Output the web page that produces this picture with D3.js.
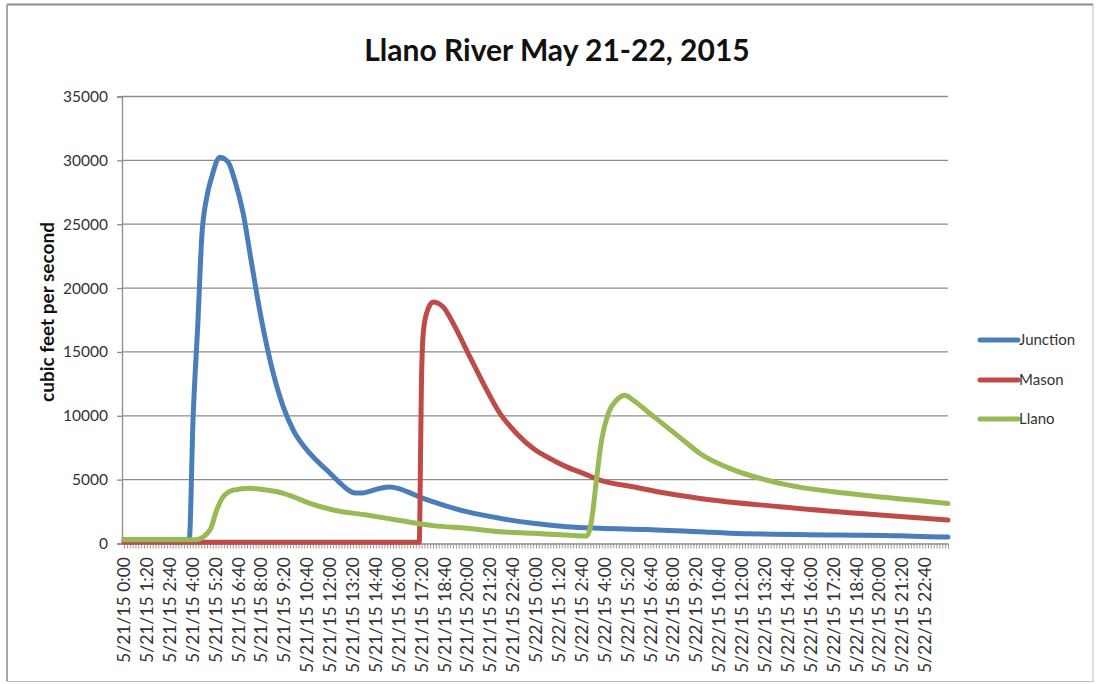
<!DOCTYPE html>
<html>
<head>
<meta charset="utf-8">
<script src="https://cdn.jsdelivr.net/npm/d3@7"></script>
<style>
  html, body { margin: 0; padding: 0; background: #fff; }
  svg { display: block; font-family: Lato, "Open Sans", sans-serif; }
</style>
</head>
<body>
<svg id="chart" width="1097" height="684"></svg>
<script>
// ---- Data (hours since 5/21/15 0:00, cubic feet per second) ----
const seriesNames = ["Junction", "Mason", "Llano"];
const seriesColors = ["#4a7ebb", "#be4b48", "#98b954"];

const junctionHours = [0, 3.8, 4.02, 4.31, 4.53, 4.82, 5.11, 5.59, 6.07, 6.46, 6.95, 7.34, 7.73, 8.21, 8.70, 9.28, 9.86, 10.83, 11.81, 12.5, 13.0, 13.45, 13.9, 14.4, 15.0, 15.49, 16.0, 16.46, 17.43, 18.60, 19.96, 21.90, 23.84, 25.78, 27.72, 30.44, 33.55, 35.29, 41.70, 45.2, 46.94, 48];
const junctionValues = [300, 300, 9650, 17470, 24000, 27100, 28700, 30250, 29850, 28400, 25800, 22700, 19570, 16170, 13300, 10700, 8880, 7050, 5750, 4850, 4250, 3950, 3950, 4120, 4350, 4420, 4300, 4080, 3530, 3010, 2490, 1970, 1580, 1310, 1190, 1100, 920, 800, 660, 600, 530, 500];

const masonHours = [0, 17.2, 17.28, 17.33, 17.43, 17.62, 18.01, 18.59, 19.18, 19.96, 20.93, 21.90, 22.87, 23.84, 24.81, 25.78, 26.75, 27.72, 29.66, 31.61, 33.55, 38.21, 44.03, 48];
const masonValues = [100, 100, 7570, 12790, 16440, 18000, 18900, 18520, 17220, 15130, 12530, 10180, 8620, 7440, 6660, 6000, 5490, 4970, 4440, 3930, 3530, 2880, 2230, 1840];

const llanoHours = [0, 4.2, 5.01, 5.40, 5.78, 6.37, 7.34, 8.31, 9.28, 9.86, 10.83, 12.19, 14.14, 16.07, 18.01, 19.96, 21.90, 23.84, 25.78, 26.95, 27.24, 27.52, 27.82, 28.21, 28.69, 29.18, 29.66, 30.63, 31.61, 32.58, 33.55, 35.29, 38.21, 42.09, 45.97, 48];
const llanoValues = [300, 300, 1050, 2620, 3660, 4180, 4320, 4180, 3930, 3660, 3140, 2620, 2230, 1800, 1400, 1190, 920, 800, 660, 590, 1840, 4970, 8090, 10180, 11220, 11610, 11220, 10180, 9130, 8090, 7050, 5880, 4710, 3930, 3400, 3140];

const yTicks = [0, 5000, 10000, 15000, 20000, 25000, 30000, 35000];
const xTickLabels = [
  "5/21/15 0:00", "5/21/15 1:20", "5/21/15 2:40", "5/21/15 4:00", "5/21/15 5:20", "5/21/15 6:40",
  "5/21/15 8:00", "5/21/15 9:20", "5/21/15 10:40", "5/21/15 12:00", "5/21/15 13:20", "5/21/15 14:40",
  "5/21/15 16:00", "5/21/15 17:20", "5/21/15 18:40", "5/21/15 20:00", "5/21/15 21:20", "5/21/15 22:40",
  "5/22/15 0:00", "5/22/15 1:20", "5/22/15 2:40", "5/22/15 4:00", "5/22/15 5:20", "5/22/15 6:40",
  "5/22/15 8:00", "5/22/15 9:20", "5/22/15 10:40", "5/22/15 12:00", "5/22/15 13:20", "5/22/15 14:40",
  "5/22/15 16:00", "5/22/15 17:20", "5/22/15 18:40", "5/22/15 20:00", "5/22/15 21:20", "5/22/15 22:40"
];
const titleText = "Llano River May 21-22, 2015";
const yTitleText = "cubic feet per second";

// ---- Layout ----
const svg = d3.select("#chart");
const plot = { left: 122, right: 948, top: 96.5, bottom: 543.5 };

// Frame
svg.append("rect").attr("x", 7).attr("y", 4.5).attr("width", 1086).attr("height", 677)
  .attr("fill", "#fff").attr("stroke", "#bdbdbd").attr("stroke-width", 1);
svg.append("line").attr("x1", 7).attr("x2", 1093).attr("y1", 4.5).attr("y2", 4.5)
  .attr("stroke", "#8f8f8f").attr("stroke-width", 2);
svg.append("line").attr("x1", 7).attr("x2", 7).attr("y1", 4.5).attr("y2", 681)
  .attr("stroke", "#a8a8a8").attr("stroke-width", 2);

const x = d3.scaleLinear().domain([0, 48]).range([124, plot.right]);
const y = d3.scaleLinear().domain([0, 35000]).range([plot.bottom, plot.top]);

// Gridlines
svg.append("g").selectAll("line").data(yTicks.filter(d => d > 0)).join("line")
  .attr("x1", plot.left).attr("x2", plot.right)
  .attr("y1", d => y(d)).attr("y2", d => y(d))
  .attr("stroke", "#8c8c8c").attr("stroke-width", 1.3);

// Y axis
const yAxis = svg.append("g").attr("transform", `translate(${plot.left},0)`)
  .call(d3.axisLeft(y).tickValues(yTicks).tickSize(5).tickPadding(9).tickFormat(d3.format("d")));
yAxis.select(".domain").attr("stroke", "#8c8c8c").attr("stroke-width", 1.3);
yAxis.selectAll(".tick line").attr("stroke", "#8c8c8c").attr("stroke-width", 1.3);
yAxis.selectAll(".tick text").attr("fill", "#333").style("font-size", "15.5px").style("font-family", "Lato, sans-serif");

// X axis: minor ticks every 10 minutes
const minorTicks = d3.range(0, 48 * 60 + 1, 10).map(m => m / 60);
const xAxisMinor = svg.append("g").attr("transform", `translate(0,${plot.bottom})`)
  .call(d3.axisBottom(x).tickValues(minorTicks).tickSize(5).tickFormat(""));
xAxisMinor.select(".domain").attr("stroke", "#8c8c8c").attr("stroke-width", 1.5)
  .attr("d", `M${plot.left},0.5H${plot.right}`);
xAxisMinor.selectAll(".tick line").attr("stroke", "#9a9a9a").attr("stroke-width", 1);

// X axis labels (every 80 minutes)
const labelHours = xTickLabels.map((s, i) => i * 80 / 60);
svg.append("g").selectAll("text").data(xTickLabels).join("text")
  .attr("transform", (d, i) => `translate(${x(labelHours[i])},557) rotate(-90)`)
  .attr("text-anchor", "end").attr("dy", "0.35em")
  .attr("fill", "#333").style("font-size", "17.5px")
  .text(d => d);

// Lines
const line = d3.line().x(d => x(d[0])).y(d => y(d[1])).curve(d3.curveMonotoneX);
const seriesData = [
  d3.zip(junctionHours, junctionValues),
  d3.zip(masonHours, masonValues),
  d3.zip(llanoHours, llanoValues)
];
svg.append("g").selectAll("path").data(seriesData).join("path")
  .attr("d", d => line(d))
  .attr("fill", "none")
  .attr("stroke", (d, i) => seriesColors[i])
  .attr("stroke-width", 5)
  .attr("stroke-linejoin", "round").attr("stroke-linecap", "round");

// Title
svg.append("text").attr("x", 557).attr("y", 61).attr("text-anchor", "middle")
  .style("font-size", "30px").style("font-weight", "bold").attr("fill", "#111")
  .text(titleText);

// Y title
svg.append("text").attr("transform", "translate(47,312) rotate(-90)")
  .attr("text-anchor", "middle").attr("dy", "0.35em")
  .style("font-size", "19px").style("font-weight", "bold").attr("fill", "#111")
  .text(yTitleText);

// Legend
const legendY = [340, 380, 419];
const lg = svg.append("g").selectAll("g").data(seriesNames).join("g")
  .attr("transform", (d, i) => `translate(980,${legendY[i]})`);
lg.append("line").attr("x1", 0).attr("x2", 38).attr("y1", 0).attr("y2", 0)
  .attr("stroke", (d, i) => seriesColors[i]).attr("stroke-width", 5).attr("stroke-linecap", "round");
lg.append("text").attr("x", 39).attr("dy", "0.35em").attr("fill", "#333")
  .style("font-size", "15px").text(d => d);
</script>
</body>
</html>
